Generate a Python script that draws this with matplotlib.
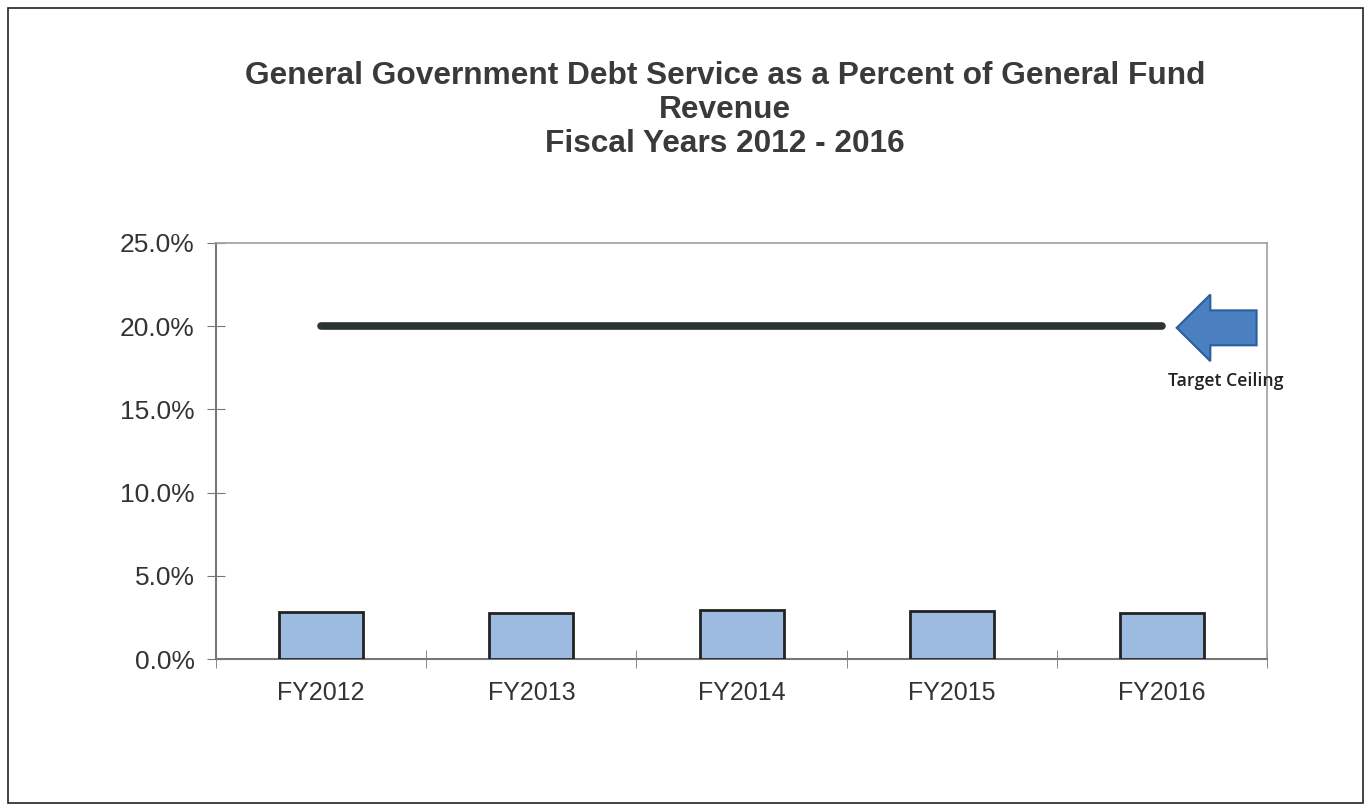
import matplotlib
matplotlib.use("Agg")
import matplotlib.pyplot as plt
from matplotlib.patches import Rectangle, FancyArrow
import numpy as np

# data
years = ['FY2012', 'FY2013', 'FY2014', 'FY2015', 'FY2016']
debt_pct = [2.82, 2.75, 2.92, 2.87, 2.74]
ceiling_pct = [20.0, 20.0, 20.0, 20.0, 20.0]

plt.rcParams['font.family'] = ['Liberation Sans', 'DejaVu Sans']
txt = '#333333'

fig = plt.figure(figsize=(13.71, 8.11), dpi=100)
# outer chart border
fig.patches.append(Rectangle((0.006, 0.01), 0.988, 0.98, transform=fig.transFigure,
                             fill=False, edgecolor='#222222', linewidth=1.2))

ax = fig.add_axes([0.1576, 0.1874, 0.7666, 0.513])
x = np.arange(len(years))

ax.bar(x, debt_pct, width=0.4, color='#9dbbe0', edgecolor='#222222', linewidth=2, zorder=3)
ax.plot(x, ceiling_pct, color='#2d3530', linewidth=5.5, solid_capstyle='round', zorder=4)

ax.set_xlim(-0.5, len(years) - 0.5)
ax.set_ylim(0, 25)
ax.set_yticks(np.arange(0, 25.1, 5))
ax.set_yticklabels(['%.1f%%' % v for v in np.arange(0, 25.1, 5)])
ax.set_xticks(x)
ax.set_xticklabels(years)
ax.set_xticks(np.arange(-0.5, len(years)), minor=True)
ax.tick_params(axis='x', which='major', length=0, pad=16, labelsize=18, labelcolor=txt)
ax.tick_params(axis='x', which='minor', length=13, direction='inout', color='#777777')
ax.tick_params(axis='y', length=13, direction='inout', color='#777777', labelsize=19,
               labelcolor=txt, pad=9)

for side in ['left', 'bottom']:
    ax.spines[side].set_color('#777777')
    ax.spines[side].set_linewidth(1.5)
for side in ['top', 'right']:
    ax.spines[side].set_color('#a0a0a0')
    ax.spines[side].set_linewidth(1.2)

# target ceiling arrow + label
ax.add_patch(FancyArrow(4.45, 19.9, -0.38, 0, width=2.1, head_width=4.0, head_length=0.16,
                        length_includes_head=True, facecolor='#4a7fc0', edgecolor='#2c5e9e',
                        linewidth=1.5, clip_on=False, zorder=5))
ax.text(4.305, 16.7, 'Target Ceiling', ha='center', va='center', fontsize=12.7,
        family=['Open Sans', 'DejaVu Sans'], fontweight='semibold', color='#222222')

fig.text(0.529, 0.864, 'General Government Debt Service as a Percent of General Fund\nRevenue\nFiscal Years 2012 - 2016',
         ha='center', va='center', fontsize=22.8, fontweight='bold', color='#3a3a3a', linespacing=1.18)

fig.savefig('out.png', dpi=100)
